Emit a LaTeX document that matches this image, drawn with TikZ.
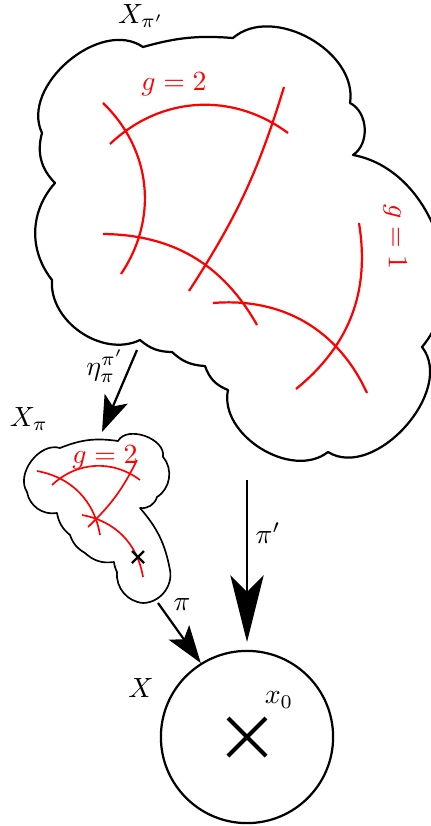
\documentclass[tikz,border=0pt]{standalone}
\usetikzlibrary{arrows.meta,positioning}

\begin{document}
\begin{tikzpicture}[
  x=0.36pt, y=-0.36pt,
  every node/.style={inner sep=0pt},
  bigcloud/.style={draw, thick, line join=round},
  smallcloud/.style={draw, semithick, line join=round},
  bigcurve/.style={red, thick},
  smallcurve/.style={red, semithick},
  cross/.style={line width=#1, line cap=butt},
  bigmap/.style={thick, -{Stealth[length=24pt, width=12pt, inset=6pt]}},
  midmap/.style={thick, -{Stealth[length=13pt, width=9pt, inset=3pt]}},
  smallmap/.style={thick, -{Stealth[length=13.5pt, width=9pt, inset=3pt]}}
]
\useasboundingbox (0,0) rectangle (431,826);

% the big cloud X_{pi'}
\draw[bigcloud] (143,47) to[bend left=10] (233,38) to[bend left=70] (350,103)
  to[bend left=60] (353,155) to[bend left=60] (422,347) to[bend left=80] (328,452)
  to[bend left=70] (228,390) to[bend left=25] (205,366) to[bend left=20] (172,352)
  to[bend left=20] (140,340) to[bend left=60] (52,280) to[bend left=40] (55,183)
  to[bend left=30] (42,133) to[bend left=75] cycle;
\foreach \xa/\ya/\xb/\yb/\bb in {103/103/121/274/40, 110/144/288/133/40,
    284/87/189/291/8, 103/234/257/325/30, 213/303/367/393/35, 359/223/296/389/30}
  \draw[bigcurve] (\xa,\ya) to[bend left=\bb] (\xb,\yb);
\node (Xpp) at (141,16) {$X_{\pi'}$};
\node[red] (g2big) at (174,84) {$g=2$};
\node[red, rotate=-90] (g1big) at (395,237) {$g=1$};

% the small cloud X_pi
\draw[smallcloud] (60,448) to[bend left=15] (118,441) to[bend left=80] (163,457)
  to[bend left=50] (157,497) to[bend left=40] (140,508) to[bend left=15] (170,570)
  to[bend left=50] (143,603) to[bend left=45] (117,572) to[bend left=10] (114,562)
  to[bend left=25] (85,553) to[bend left=20] (70,535) to[bend left=20] (57,513)
  to[bend left=45] (27,492) to[bend left=70] cycle;
\foreach \xa/\ya/\xb/\yb/\bb in {37/471/100/535/35, 52/485/140/480/40,
    137/460/88/527/10, 82/515/143/577/35}
  \draw[smallcurve] (\xa,\ya) to[bend left=\bb] (\xb,\yb);
\node (Xp) at (29,419) {$X_{\pi}$};
\node[red] (g2small) at (105,457) {$g=2$};
\draw[cross=0.8pt] (132,551) -- (144,563) (132,563) -- (144,551);

% the base X
\node[draw, circle, thick, minimum size=62pt] (X) at (247,737) {};
\node (Xlbl) at (141,688) {$X$};
\node (x0) at (279,700) {$x_0$};
\draw[cross=1.5pt] (X.center) ++(-19,-19) -- ++(38,38) ++(-38,0) -- ++(38,-38);

% maps
\coordinate (etas) at (137,350);
\coordinate (etae) at (102,432);
\coordinate (pis) at (158,603);
\coordinate (ppis) at (247,480);
\coordinate (ppie) at (247,642);
\draw[midmap] (etas) -- (etae);
\draw[smallmap] (pis) -- (X.122);
\draw[bigmap] (ppis) -- (ppie);
\node (eta) at (105,366) {$\eta_{\pi}^{\pi'}$};
\node (pi) at (182,605) {$\pi$};
\node (ppi) at (268,533) {$\pi'$};
\end{tikzpicture}
\end{document}
